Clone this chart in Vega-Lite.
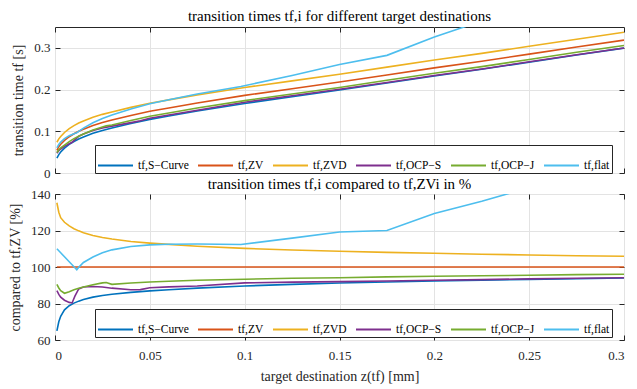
{
"$schema":"https://vega.github.io/schema/vega-lite/v6.json",
"padding":{"left":7,"top":8,"right":9,"bottom":3},
"spacing":-5,
"config":{
 "font":"Liberation Serif",
 "view":{"stroke":"#262626","strokeWidth":1},
 "axis":{"domain":false,"grid":true,"gridColor":"#e3e3e3","gridWidth":1,"tickColor":"#262626","tickSize":-5,"labelPadding":10,"labelFont":"Liberation Serif","labelFontSize":13,"labelColor":"#262626","titleFont":"Liberation Serif","titleFontSize":14,"titleFontWeight":"normal","titleColor":"#262626","minExtent":0},
 "title":{"font":"Liberation Serif","fontSize":15,"fontWeight":"normal","color":"#000","offset":3},
 "legend":{"orient":"none","direction":"horizontal","columns":6,"gridAlign":"none","title":null,"symbolType":"stroke","symbolSize":1225,"symbolStrokeWidth":2,"labelFont":"Liberation Serif","labelFontSize":11.5,"labelColor":"#000","strokeColor":"#262626","fillColor":"white","padding":2,"columnPadding":5,"labelOffset":4}
},
"resolve":{"scale":{"color":"independent"},"legend":{"color":"independent"}},
"datasets":{
"top":[
{"s":"tf,S−Curve","z":0.001,"t":0.0354},{"s":"tf,S−Curve","z":0.002,"t":0.0441},{"s":"tf,S−Curve","z":0.003,"t":0.0504},{"s":"tf,S−Curve","z":0.005,"t":0.0597},{"s":"tf,S−Curve","z":0.0075,"t":0.0686},{"s":"tf,S−Curve","z":0.01,"t":0.0754},{"s":"tf,S−Curve","z":0.0125,"t":0.0813},{"s":"tf,S−Curve","z":0.015,"t":0.0863},{"s":"tf,S−Curve","z":0.02,"t":0.0952},{"s":"tf,S−Curve","z":0.025,"t":0.1021},{"s":"tf,S−Curve","z":0.03,"t":0.1081},{"s":"tf,S−Curve","z":0.04,"t":0.1188},{"s":"tf,S−Curve","z":0.05,"t":0.1286},{"s":"tf,S−Curve","z":0.06,"t":0.1365},{"s":"tf,S−Curve","z":0.075,"t":0.1485},{"s":"tf,S−Curve","z":0.1,"t":0.1667},{"s":"tf,S−Curve","z":0.125,"t":0.1828},{"s":"tf,S−Curve","z":0.15,"t":0.1988},{"s":"tf,S−Curve","z":0.175,"t":0.2157},{"s":"tf,S−Curve","z":0.2,"t":0.2326},{"s":"tf,S−Curve","z":0.225,"t":0.2487},{"s":"tf,S−Curve","z":0.25,"t":0.2656},{"s":"tf,S−Curve","z":0.275,"t":0.2827},{"s":"tf,S−Curve","z":0.3,"t":0.2994},
{"s":"tf,ZV","z":0.001,"t":0.0545},{"s":"tf,ZV","z":0.002,"t":0.063},{"s":"tf,ZV","z":0.003,"t":0.069},{"s":"tf,ZV","z":0.005,"t":0.078},{"s":"tf,ZV","z":0.0075,"t":0.087},{"s":"tf,ZV","z":0.01,"t":0.094},{"s":"tf,ZV","z":0.0125,"t":0.1},{"s":"tf,ZV","z":0.015,"t":0.105},{"s":"tf,ZV","z":0.02,"t":0.114},{"s":"tf,ZV","z":0.025,"t":0.121},{"s":"tf,ZV","z":0.03,"t":0.127},{"s":"tf,ZV","z":0.04,"t":0.138},{"s":"tf,ZV","z":0.05,"t":0.148},{"s":"tf,ZV","z":0.06,"t":0.156},{"s":"tf,ZV","z":0.075,"t":0.168},{"s":"tf,ZV","z":0.1,"t":0.186},{"s":"tf,ZV","z":0.125,"t":0.202},{"s":"tf,ZV","z":0.15,"t":0.218},{"s":"tf,ZV","z":0.175,"t":0.235},{"s":"tf,ZV","z":0.2,"t":0.252},{"s":"tf,ZV","z":0.225,"t":0.268},{"s":"tf,ZV","z":0.25,"t":0.285},{"s":"tf,ZV","z":0.275,"t":0.302},{"s":"tf,ZV","z":0.3,"t":0.3185},
{"s":"tf,ZVD","z":0.001,"t":0.0737},{"s":"tf,ZVD","z":0.002,"t":0.0819},{"s":"tf,ZVD","z":0.003,"t":0.0876},{"s":"tf,ZVD","z":0.005,"t":0.0971},{"s":"tf,ZVD","z":0.0075,"t":0.1066},{"s":"tf,ZVD","z":0.01,"t":0.1137},{"s":"tf,ZVD","z":0.0125,"t":0.1198},{"s":"tf,ZVD","z":0.015,"t":0.1247},{"s":"tf,ZVD","z":0.02,"t":0.1337},{"s":"tf,ZVD","z":0.025,"t":0.1406},{"s":"tf,ZVD","z":0.03,"t":0.1464},{"s":"tf,ZVD","z":0.04,"t":0.1573},{"s":"tf,ZVD","z":0.05,"t":0.1674},{"s":"tf,ZVD","z":0.06,"t":0.1753},{"s":"tf,ZVD","z":0.075,"t":0.1872},{"s":"tf,ZVD","z":0.1,"t":0.205},{"s":"tf,ZVD","z":0.125,"t":0.2208},{"s":"tf,ZVD","z":0.15,"t":0.2367},{"s":"tf,ZVD","z":0.175,"t":0.2538},{"s":"tf,ZVD","z":0.2,"t":0.2709},{"s":"tf,ZVD","z":0.225,"t":0.2868},{"s":"tf,ZVD","z":0.25,"t":0.3038},{"s":"tf,ZVD","z":0.275,"t":0.3207},{"s":"tf,ZVD","z":0.3,"t":0.3373},
{"s":"tf,OCP−S","z":0.001,"t":0.0474},{"s":"tf,OCP−S","z":0.002,"t":0.0536},{"s":"tf,OCP−S","z":0.003,"t":0.0576},{"s":"tf,OCP−S","z":0.005,"t":0.0638},{"s":"tf,OCP−S","z":0.0075,"t":0.0701},{"s":"tf,OCP−S","z":0.009,"t":0.0735},{"s":"tf,OCP−S","z":0.0105,"t":0.08},{"s":"tf,OCP−S","z":0.0125,"t":0.088},{"s":"tf,OCP−S","z":0.015,"t":0.0935},{"s":"tf,OCP−S","z":0.02,"t":0.1018},{"s":"tf,OCP−S","z":0.025,"t":0.1077},{"s":"tf,OCP−S","z":0.03,"t":0.1123},{"s":"tf,OCP−S","z":0.04,"t":0.1208},{"s":"tf,OCP−S","z":0.045,"t":0.1253},{"s":"tf,OCP−S","z":0.05,"t":0.1311},{"s":"tf,OCP−S","z":0.06,"t":0.139},{"s":"tf,OCP−S","z":0.075,"t":0.1505},{"s":"tf,OCP−S","z":0.1,"t":0.1698},{"s":"tf,OCP−S","z":0.125,"t":0.1852},{"s":"tf,OCP−S","z":0.15,"t":0.2006},{"s":"tf,OCP−S","z":0.175,"t":0.2169},{"s":"tf,OCP−S","z":0.2,"t":0.2336},{"s":"tf,OCP−S","z":0.225,"t":0.2495},{"s":"tf,OCP−S","z":0.25,"t":0.2665},{"s":"tf,OCP−S","z":0.275,"t":0.2833},{"s":"tf,OCP−S","z":0.3,"t":0.2997},
{"s":"tf,OCP−J","z":0.001,"t":0.0493},{"s":"tf,OCP−J","z":0.002,"t":0.0558},{"s":"tf,OCP−J","z":0.003,"t":0.06},{"s":"tf,OCP−J","z":0.005,"t":0.0668},{"s":"tf,OCP−J","z":0.0075,"t":0.0753},{"s":"tf,OCP−J","z":0.01,"t":0.0823},{"s":"tf,OCP−J","z":0.0125,"t":0.0883},{"s":"tf,OCP−J","z":0.015,"t":0.0935},{"s":"tf,OCP−J","z":0.02,"t":0.1029},{"s":"tf,OCP−J","z":0.025,"t":0.1105},{"s":"tf,OCP−J","z":0.027,"t":0.113},{"s":"tf,OCP−J","z":0.03,"t":0.1149},{"s":"tf,OCP−J","z":0.04,"t":0.1259},{"s":"tf,OCP−J","z":0.05,"t":0.1359},{"s":"tf,OCP−J","z":0.06,"t":0.1438},{"s":"tf,OCP−J","z":0.075,"t":0.1557},{"s":"tf,OCP−J","z":0.1,"t":0.1735},{"s":"tf,OCP−J","z":0.125,"t":0.1895},{"s":"tf,OCP−J","z":0.15,"t":0.2051},{"s":"tf,OCP−J","z":0.175,"t":0.2223},{"s":"tf,OCP−J","z":0.2,"t":0.2391},{"s":"tf,OCP−J","z":0.225,"t":0.2551},{"s":"tf,OCP−J","z":0.25,"t":0.2722},{"s":"tf,OCP−J","z":0.275,"t":0.2893},{"s":"tf,OCP−J","z":0.3,"t":0.3058},
{"s":"tf,flat","z":0.001,"t":0.06},{"s":"tf,flat","z":0.002,"t":0.0686},{"s":"tf,flat","z":0.003,"t":0.0744},{"s":"tf,flat","z":0.005,"t":0.0824},{"s":"tf,flat","z":0.0075,"t":0.0895},{"s":"tf,flat","z":0.01,"t":0.0941},{"s":"tf,flat","z":0.0115,"t":0.0967},{"s":"tf,flat","z":0.0125,"t":0.0998},{"s":"tf,flat","z":0.015,"t":0.1076},{"s":"tf,flat","z":0.02,"t":0.1203},{"s":"tf,flat","z":0.025,"t":0.1304},{"s":"tf,flat","z":0.03,"t":0.1389},{"s":"tf,flat","z":0.04,"t":0.1535},{"s":"tf,flat","z":0.05,"t":0.1659},{"s":"tf,flat","z":0.06,"t":0.1755},{"s":"tf,flat","z":0.075,"t":0.1892},{"s":"tf,flat","z":0.098,"t":0.2074},{"s":"tf,flat","z":0.125,"t":0.2339},{"s":"tf,flat","z":0.15,"t":0.2599},{"s":"tf,flat","z":0.175,"t":0.282},{"s":"tf,flat","z":0.2,"t":0.3258},{"s":"tf,flat","z":0.225,"t":0.3645},{"s":"tf,flat","z":0.25,"t":0.409}
],
"bot":[
{"s":"tf,S−Curve","z":0.001,"p":65},{"s":"tf,S−Curve","z":0.002,"p":70},{"s":"tf,S−Curve","z":0.003,"p":73},{"s":"tf,S−Curve","z":0.005,"p":76.5},{"s":"tf,S−Curve","z":0.0075,"p":78.8},{"s":"tf,S−Curve","z":0.01,"p":80.2},{"s":"tf,S−Curve","z":0.0125,"p":81.3},{"s":"tf,S−Curve","z":0.015,"p":82.2},{"s":"tf,S−Curve","z":0.02,"p":83.5},{"s":"tf,S−Curve","z":0.025,"p":84.4},{"s":"tf,S−Curve","z":0.03,"p":85.1},{"s":"tf,S−Curve","z":0.04,"p":86.1},{"s":"tf,S−Curve","z":0.05,"p":86.9},{"s":"tf,S−Curve","z":0.06,"p":87.5},{"s":"tf,S−Curve","z":0.075,"p":88.4},{"s":"tf,S−Curve","z":0.1,"p":89.6},{"s":"tf,S−Curve","z":0.125,"p":90.5},{"s":"tf,S−Curve","z":0.15,"p":91.2},{"s":"tf,S−Curve","z":0.175,"p":91.8},{"s":"tf,S−Curve","z":0.2,"p":92.3},{"s":"tf,S−Curve","z":0.225,"p":92.8},{"s":"tf,S−Curve","z":0.25,"p":93.2},{"s":"tf,S−Curve","z":0.275,"p":93.6},{"s":"tf,S−Curve","z":0.3,"p":94},
{"s":"tf,ZV","z":0.001,"p":100},{"s":"tf,ZV","z":0.3,"p":100},
{"s":"tf,ZVD","z":0.001,"p":135.2},{"s":"tf,ZVD","z":0.002,"p":130},{"s":"tf,ZVD","z":0.003,"p":127},{"s":"tf,ZVD","z":0.005,"p":124.5},{"s":"tf,ZVD","z":0.0075,"p":122.5},{"s":"tf,ZVD","z":0.01,"p":121},{"s":"tf,ZVD","z":0.0125,"p":119.8},{"s":"tf,ZVD","z":0.015,"p":118.8},{"s":"tf,ZVD","z":0.02,"p":117.3},{"s":"tf,ZVD","z":0.025,"p":116.2},{"s":"tf,ZVD","z":0.03,"p":115.3},{"s":"tf,ZVD","z":0.04,"p":114},{"s":"tf,ZVD","z":0.05,"p":113.1},{"s":"tf,ZVD","z":0.06,"p":112.4},{"s":"tf,ZVD","z":0.075,"p":111.4},{"s":"tf,ZVD","z":0.1,"p":110.2},{"s":"tf,ZVD","z":0.125,"p":109.3},{"s":"tf,ZVD","z":0.15,"p":108.6},{"s":"tf,ZVD","z":0.175,"p":108},{"s":"tf,ZVD","z":0.2,"p":107.5},{"s":"tf,ZVD","z":0.225,"p":107},{"s":"tf,ZVD","z":0.25,"p":106.6},{"s":"tf,ZVD","z":0.275,"p":106.2},{"s":"tf,ZVD","z":0.3,"p":105.9},
{"s":"tf,OCP−S","z":0.001,"p":87},{"s":"tf,OCP−S","z":0.002,"p":85},{"s":"tf,OCP−S","z":0.003,"p":83.5},{"s":"tf,OCP−S","z":0.005,"p":81.8},{"s":"tf,OCP−S","z":0.0075,"p":80.6},{"s":"tf,OCP−S","z":0.009,"p":80.3},{"s":"tf,OCP−S","z":0.0105,"p":84},{"s":"tf,OCP−S","z":0.0125,"p":88},{"s":"tf,OCP−S","z":0.015,"p":89},{"s":"tf,OCP−S","z":0.02,"p":89.3},{"s":"tf,OCP−S","z":0.025,"p":89},{"s":"tf,OCP−S","z":0.03,"p":88.4},{"s":"tf,OCP−S","z":0.04,"p":87.5},{"s":"tf,OCP−S","z":0.045,"p":87.6},{"s":"tf,OCP−S","z":0.05,"p":88.6},{"s":"tf,OCP−S","z":0.06,"p":89.1},{"s":"tf,OCP−S","z":0.075,"p":89.6},{"s":"tf,OCP−S","z":0.1,"p":91.3},{"s":"tf,OCP−S","z":0.125,"p":91.7},{"s":"tf,OCP−S","z":0.15,"p":92},{"s":"tf,OCP−S","z":0.175,"p":92.3},{"s":"tf,OCP−S","z":0.2,"p":92.7},{"s":"tf,OCP−S","z":0.225,"p":93.1},{"s":"tf,OCP−S","z":0.25,"p":93.5},{"s":"tf,OCP−S","z":0.275,"p":93.8},{"s":"tf,OCP−S","z":0.3,"p":94.1},
{"s":"tf,OCP−J","z":0.001,"p":90.5},{"s":"tf,OCP−J","z":0.002,"p":88.5},{"s":"tf,OCP−J","z":0.003,"p":87},{"s":"tf,OCP−J","z":0.005,"p":85.6},{"s":"tf,OCP−J","z":0.0075,"p":86.5},{"s":"tf,OCP−J","z":0.01,"p":87.5},{"s":"tf,OCP−J","z":0.0125,"p":88.3},{"s":"tf,OCP−J","z":0.015,"p":89},{"s":"tf,OCP−J","z":0.02,"p":90.3},{"s":"tf,OCP−J","z":0.025,"p":91.3},{"s":"tf,OCP−J","z":0.027,"p":91.5},{"s":"tf,OCP−J","z":0.03,"p":90.5},{"s":"tf,OCP−J","z":0.04,"p":91.2},{"s":"tf,OCP−J","z":0.05,"p":91.8},{"s":"tf,OCP−J","z":0.06,"p":92.2},{"s":"tf,OCP−J","z":0.075,"p":92.7},{"s":"tf,OCP−J","z":0.1,"p":93.3},{"s":"tf,OCP−J","z":0.125,"p":93.8},{"s":"tf,OCP−J","z":0.15,"p":94.1},{"s":"tf,OCP−J","z":0.175,"p":94.6},{"s":"tf,OCP−J","z":0.2,"p":94.9},{"s":"tf,OCP−J","z":0.225,"p":95.2},{"s":"tf,OCP−J","z":0.25,"p":95.5},{"s":"tf,OCP−J","z":0.275,"p":95.8},{"s":"tf,OCP−J","z":0.3,"p":96},
{"s":"tf,flat","z":0.001,"p":110},{"s":"tf,flat","z":0.002,"p":108.9},{"s":"tf,flat","z":0.003,"p":107.8},{"s":"tf,flat","z":0.005,"p":105.6},{"s":"tf,flat","z":0.0075,"p":102.9},{"s":"tf,flat","z":0.01,"p":100.1},{"s":"tf,flat","z":0.0115,"p":98.5},{"s":"tf,flat","z":0.0125,"p":99.8},{"s":"tf,flat","z":0.015,"p":102.5},{"s":"tf,flat","z":0.02,"p":105.5},{"s":"tf,flat","z":0.025,"p":107.8},{"s":"tf,flat","z":0.03,"p":109.4},{"s":"tf,flat","z":0.04,"p":111.2},{"s":"tf,flat","z":0.05,"p":112.1},{"s":"tf,flat","z":0.06,"p":112.5},{"s":"tf,flat","z":0.075,"p":112.6},{"s":"tf,flat","z":0.098,"p":112.3},{"s":"tf,flat","z":0.125,"p":115.8},{"s":"tf,flat","z":0.15,"p":119.2},{"s":"tf,flat","z":0.175,"p":120},{"s":"tf,flat","z":0.2,"p":129.3},{"s":"tf,flat","z":0.225,"p":136},{"s":"tf,flat","z":0.25,"p":143.5}
]
},
"vconcat":[
{
 "title":{"text":"transition times tf,i for different target destinations"},
 "width":569,"height":146,
 "data":{"name":"top"},
 "resolve":{"axis":{"x":"independent","y":"independent"}},
 "layer":[
  {
   "mark":{"type":"line","clip":true,"strokeWidth":1.6},
   "encoding":{
    "x":{"field":"z","type":"quantitative","scale":{"domain":[0,0.3],"nice":false},"axis":{"values":[0,0.05,0.1,0.15,0.2,0.25,0.3],"labels":false,"title":null,"labelPadding":0,"maxExtent":0}},
    "y":{"field":"t","type":"quantitative","scale":{"domain":[0,0.35],"nice":false},"axis":{"values":[0,0.1,0.2,0.3],"labelExpr":"''+datum.value","title":"transition time tf  [s]","titlePadding":8}},
    "color":{"field":"s","type":"nominal","scale":{"domain":["tf,S−Curve","tf,ZV","tf,ZVD","tf,OCP−S","tf,OCP−J","tf,flat"],"range":["#0072BD","#D95319","#EDB120","#7E2F8E","#77AC30","#4DBEEE"]},"legend":{"legendX":40,"legendY":118}}
   }
  },
  {
   "mark":{"type":"point","opacity":0,"clip":true},
   "encoding":{
    "x":{"field":"z","type":"quantitative","axis":{"orient":"top","values":[0,0.05,0.1,0.15,0.2,0.25,0.3],"labels":false,"grid":false,"title":null,"labelPadding":0,"maxExtent":0}},
    "y":{"field":"t","type":"quantitative","axis":{"orient":"right","values":[0,0.1,0.2,0.3],"labels":false,"grid":false,"title":null,"labelPadding":0,"maxExtent":0}}
   }
  }
 ]
},
{
 "title":{"text":"transition times tf,i compared to tf,ZVi in %","offset":-4},
 "width":569,"height":146,
 "data":{"name":"bot"},
 "resolve":{"axis":{"x":"independent","y":"independent"}},
 "layer":[
  {
   "mark":{"type":"line","clip":true,"strokeWidth":1.6},
   "encoding":{
    "x":{"field":"z","type":"quantitative","scale":{"domain":[0,0.3],"nice":false},"axis":{"values":[0,0.05,0.1,0.15,0.2,0.25,0.3],"labelExpr":"''+datum.value","title":"target destination z(tf)  [mm]","labelPadding":14,"titlePadding":7}},
    "y":{"field":"p","type":"quantitative","scale":{"domain":[60,140],"nice":false},"axis":{"values":[60,80,100,120,140],"title":"compared to tf,ZV  [%]","titlePadding":8}},
    "color":{"field":"s","type":"nominal","scale":{"domain":["tf,S−Curve","tf,ZV","tf,ZVD","tf,OCP−S","tf,OCP−J","tf,flat"],"range":["#0072BD","#D95319","#EDB120","#7E2F8E","#77AC30","#4DBEEE"]},"legend":{"legendX":40,"legendY":115}}
   }
  },
  {
   "mark":{"type":"point","opacity":0,"clip":true},
   "encoding":{
    "x":{"field":"z","type":"quantitative","axis":{"orient":"top","values":[0,0.05,0.1,0.15,0.2,0.25,0.3],"labels":false,"grid":false,"title":null,"labelPadding":0,"maxExtent":0}},
    "y":{"field":"p","type":"quantitative","axis":{"orient":"right","values":[60,80,100,120,140],"labels":false,"grid":false,"title":null,"labelPadding":0,"maxExtent":0}}
   }
  }
 ]
}
]
}
